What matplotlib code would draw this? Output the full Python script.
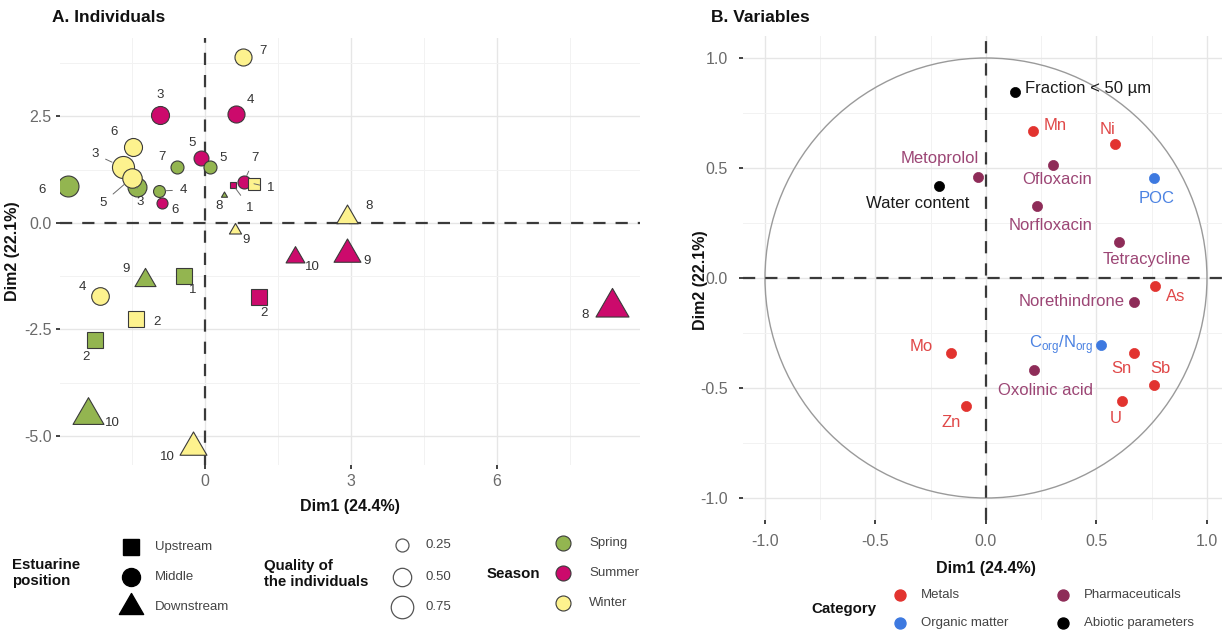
import numpy as np
import matplotlib
matplotlib.use("Agg")
import matplotlib.pyplot as plt
from matplotlib.path import Path
from matplotlib.patches import Circle

plt.rcParams['font.family'] = ['Liberation Sans', 'DejaVu Sans']

W, H = 1224, 633

# ---------------- Individuals: PCA scores per season ----------------
spring_site = [6, 3, 7, 4, 5, 1, 2, 9, 10, 8]
spring_pos = ["Middle"] * 5 + ["Upstream"] * 2 + ["Downstream"] * 3
spring_dim1 = [-2.82, -1.40, -0.58, -0.95, 0.10, -0.43, -2.26, -1.23, -2.41, 0.39]
spring_dim2 = [0.87, 0.85, 1.31, 0.75, 1.31, -1.24, -2.75, -1.34, -4.50, 0.66]
spring_qual = [0.65, 0.53, 0.25, 0.21, 0.25, 0.43, 0.53, 0.36, 0.78, 0.03]

summer_site = [3, 4, 5, 7, 6, 1, 2, 10, 9, 8]
summer_pos = ["Middle"] * 5 + ["Upstream"] * 2 + ["Downstream"] * 3
summer_dim1 = [-0.93, 0.64, -0.08, 0.80, -0.88, 0.58, 1.11, 1.85, 2.92, 8.37]
summer_dim2 = [2.54, 2.56, 1.53, 0.96, 0.47, 0.89, -1.74, -0.81, -0.73, -1.97]
summer_qual = [0.48, 0.43, 0.33, 0.25, 0.18, 0.09, 0.43, 0.29, 0.59, 0.89]

winter_site = [7, 6, 3, 5, 4, 1, 2, 10, 8, 9]
winter_pos = ["Middle"] * 5 + ["Upstream"] * 2 + ["Downstream"] * 3
winter_dim1 = [0.78, -1.48, -1.69, -1.50, -2.16, 1.01, -1.42, -0.25, 2.92, 0.62]
winter_dim2 = [3.90, 1.78, 1.31, 1.06, -1.71, 0.92, -2.25, -5.26, 0.15, -0.16]
winter_qual = [0.43, 0.48, 0.72, 0.56, 0.46, 0.27, 0.48, 0.59, 0.38, 0.12]

# label placement (pixels right, pixels down) and whether a leader segment is drawn
spring_lab = [(-26, 4, 0), (3, 15, 1), (-15, -10, 0), (25, -1, 1), (13, -9, 0),
              (9, 14, 0), (-9, 17, 0), (-19, -11, 0), (25, 8, 0), (-5, 11, 0)]
summer_lab = [(0, -20, 0), (14, -14, 0), (-9, -15, 0), (11, -24, 1), (13, 7, 0),
              (17, 23, 1), (5, 16, 0), (18, 10, 0), (20, 7, 0), (-27, 8, 0)]
winter_lab = [(20, -6, 0), (-19, -15, 0), (-28, -13, 1), (-29, 25, 1), (-17, -9, 0),
              (17, 4, 1), (21, 3, 0), (-25, 10, 0), (22, -11, 0), (11, 10, 0)]

season_names = ["Spring", "Summer", "Winter"]
season_colors = ["#93B550", "#CC0A6C", "#FDF28E"]
positions = ["Upstream", "Middle", "Downstream"]
quality_breaks = [0.25, 0.50, 0.75]

ind_xticks = [0, 3, 6]
ind_xticklabels = ["0", "3", "6"]
ind_yticks = [-5.0, -2.5, 0.0, 2.5]
ind_yticklabels = ["-5.0", "-2.5", "0.0", "2.5"]

# ---------------- Variables: correlation circle ----------------
var_names = ["Fraction < 50 µm", "Mn", "Ni", "Ofloxacin", "Metoprolol", "Water content",
             "POC", "Norfloxacin", "Tetracycline", "As", "Norethindrone",
             r"C$_{\mathregular{org}}$/N$_{\mathregular{org}}$", "Sn", "Sb", "U",
             "Oxolinic acid", "Mo", "Zn"]
var_cat = ["Abiotic parameters", "Metals", "Metals", "Pharmaceuticals", "Pharmaceuticals",
           "Abiotic parameters", "Organic matter", "Pharmaceuticals", "Pharmaceuticals",
           "Metals", "Pharmaceuticals", "Organic matter", "Metals", "Metals", "Metals",
           "Pharmaceuticals", "Metals", "Metals"]
var_dim1 = [0.133, 0.214, 0.583, 0.305, -0.038, -0.214, 0.759, 0.229, 0.602, 0.766,
            0.672, 0.522, 0.672, 0.759, 0.617, 0.217, -0.157, -0.089]
var_dim2 = [0.847, 0.670, 0.609, 0.515, 0.461, 0.420, 0.453, 0.329, 0.163, -0.038,
            -0.108, -0.304, -0.342, -0.485, -0.560, -0.417, -0.342, -0.583]
var_lab = [(10, -3, "left"), (22, -5, "center"), (-7, -15, "center"), (4, 15, "center"),
           (-38, -18, "center"), (-21, 18, "center"), (3, 20, "center"), (14, 20, "center"),
           (28, 17, "center"), (20, 10, "center"), (-63, 0, "center"), (-40, 0, "center"),
           (-13, 15, "center"), (7, -16, "center"), (-7, 17, "center"), (12, 21, "center"),
           (-30, -7, "center"), (-15, 16, "center")]

categories = ["Metals", "Pharmaceuticals", "Organic matter", "Abiotic parameters"]
cat_colors = {"Metals": "#E2332F", "Pharmaceuticals": "#8E2C58",
              "Organic matter": "#3D79E0", "Abiotic parameters": "#000000"}
cat_text_colors = {"Metals": "#E04848", "Pharmaceuticals": "#9C4675",
                   "Organic matter": "#4B82E2", "Abiotic parameters": "#1a1a1a"}

var_ticks = [-1.0, -0.5, 0.0, 0.5, 1.0]
var_ticklabels = ["-1.0", "-0.5", "0.0", "0.5", "1.0"]

# ---------------- helpers ----------------
TRI = Path([[0, 1], [-np.sqrt(3) / 2, -0.5], [np.sqrt(3) / 2, -0.5], [0, 1]],
           [Path.MOVETO, Path.LINETO, Path.LINETO, Path.CLOSEPOLY])


def diam_px(q):
    return 26.0 * np.sqrt(q)


def marker_for(pos, d_px):
    d_pt = d_px * 0.72
    if pos == "Upstream":
        return "s", 0.886 * d_pt
    if pos == "Middle":
        return "o", d_pt
    return TRI, 1.555 * d_pt


def fx(x):
    return x / W


def fy(y):
    return 1 - y / H


def style_axes(ax, xt, xtl, yt, ytl, xminor, yminor, pad_x, pad_y):
    for s in ax.spines.values():
        s.set_visible(False)
    ax.set_xticks(xt)
    ax.set_xticklabels(xtl)
    ax.set_yticks(yt)
    ax.set_yticklabels(ytl)
    ax.set_xticks(xminor, minor=True)
    ax.set_yticks(yminor, minor=True)
    ax.grid(True, which="major", color="#E6E6E6", lw=1.0, zorder=0)
    ax.grid(True, which="minor", color="#F2F2F2", lw=0.7, zorder=0)
    ax.set_axisbelow(True)
    ax.tick_params(which="major", length=3, width=1.3, color="#333333",
                   labelsize=11.5, labelcolor="#6a6a6a")
    ax.tick_params(axis="x", which="major", pad=pad_x)
    ax.tick_params(axis="y", which="major", pad=pad_y)
    ax.tick_params(which="minor", length=0)


fig = plt.figure(figsize=(W / 100, H / 100), dpi=100)
fig.patch.set_facecolor("white")

# ---------------- panel A ----------------
axA = fig.add_axes([fx(60), fy(465), (640 - 60) / W, (465 - 38) / H])
axA.set_xlim(-2.98, 8.95)
axA.set_ylim(-5.68, 4.34)
style_axes(axA, ind_xticks, ind_xticklabels, ind_yticks, ind_yticklabels,
           [-1.5, 1.5, 4.5, 7.5], [-3.75, -1.25, 1.25, 3.75], 3.5, 3)
axA.axhline(0, color="#3a3a3a", lw=1.6, dashes=(5.5, 4.5), zorder=1)
axA.axvline(0, color="#3a3a3a", lw=1.6, dashes=(5.5, 4.5), zorder=1)

groups = [
    (summer_site, summer_pos, summer_dim1, summer_dim2, summer_qual, summer_lab, season_colors[1]),
    (spring_site, spring_pos, spring_dim1, spring_dim2, spring_qual, spring_lab, season_colors[0]),
    (winter_site, winter_pos, winter_dim1, winter_dim2, winter_qual, winter_lab, season_colors[2]),
]
for site, pos, d1, d2, qual, lab, col in groups:
    for s, p, x, y, q, (dx, dy, seg) in zip(site, pos, d1, d2, qual, lab):
        d = diam_px(q)
        mk, ms = marker_for(p, d)
        axA.plot([x], [y], ls="none", marker=mk, ms=ms, mfc=col, mec="#3a3a3a",
                 mew=0.8, zorder=3)
        ap = None
        if seg:
            ap = dict(arrowstyle="-", color="#6a6a6a", lw=0.7,
                      shrinkA=3.5, shrinkB=d * 0.36 + 0.5)
        axA.annotate(str(s), xy=(x, y), xytext=(dx, -dy), textcoords="offset pixels",
                     ha="center", va="center", fontsize=9.5, color="#333333",
                     arrowprops=ap, zorder=4)

fig.text(fx(52), fy(18), "A. Individuals", fontsize=12.5, fontweight="bold",
         ha="left", va="center", color="#111111")
fig.text(fx(350), fy(506), "Dim1 (24.4%)", fontsize=11.5, fontweight="bold",
         ha="center", va="center", color="#111111")
fig.text(fx(13), fy(251), "Dim2 (22.1%)", fontsize=11.5, fontweight="bold",
         ha="center", va="center", rotation=90, color="#111111")

# ---------------- panel B ----------------
axB = fig.add_axes([fx(743), fy(520), (1222 - 743) / W, (520 - 36) / H])
axB.set_xlim(-1.0995, 1.068)
axB.set_ylim(-1.1, 1.1)
style_axes(axB, var_ticks, var_ticklabels, var_ticks, var_ticklabels,
           [-0.75, -0.25, 0.25, 0.75], [-0.75, -0.25, 0.25, 0.75], 7, 8)
axB.add_patch(Circle((0, 0), 1.0, fill=False, ec="#9a9a9a", lw=1.0, zorder=1))
axB.axhline(0, color="#3a3a3a", lw=1.6, dashes=(5.5, 4.5), zorder=2)
axB.axvline(0, color="#3a3a3a", lw=1.6, dashes=(5.5, 4.5), zorder=2)

for name, cat, x, y, (dx, dy, ha) in zip(var_names, var_cat, var_dim1, var_dim2, var_lab):
    axB.plot([x], [y], ls="none", marker="o", ms=7.3, mfc=cat_colors[cat],
             mec=cat_colors[cat], mew=0.5, zorder=3)
    axB.annotate(name, xy=(x, y), xytext=(dx, -dy), textcoords="offset pixels",
                 ha=ha, va="center", fontsize=12, color=cat_text_colors[cat], zorder=4)

fig.text(fx(711), fy(18), "B. Variables", fontsize=12.5, fontweight="bold",
         ha="left", va="center", color="#111111")
fig.text(fx(986), fy(569), "Dim1 (24.4%)", fontsize=11.5, fontweight="bold",
         ha="center", va="center", color="#111111")
fig.text(fx(700), fy(280), "Dim2 (22.1%)", fontsize=11.5, fontweight="bold",
         ha="center", va="center", rotation=90, color="#111111")

# ---------------- legends ----------------
leg = fig.add_axes([0, 0, 1, 1], facecolor="none")
leg.set_xlim(0, W)
leg.set_ylim(H, 0)
leg.axis("off")

title_kw = dict(fontsize=10.8, fontweight="bold", color="#111111", va="center",
                ha="left", linespacing=1.15)
item_kw = dict(fontsize=9.5, color="#444444", va="center", ha="left")

# estuarine position
leg.text(12, 573, "Estuarine\nposition", **title_kw)
for p, yy in zip(positions, [547, 577, 607]):
    mk, ms = marker_for(p, 18)
    leg.plot([131], [yy], ls="none", marker=mk, ms=ms, mfc="black", mec="black")
    leg.text(155, yy, p, **item_kw)

# quality of representation
leg.text(264, 574, "Quality of\nthe individuals", **title_kw)
for q, yy in zip(quality_breaks, [545, 577, 607]):
    leg.plot([402], [yy], ls="none", marker="o", ms=diam_px(q) * 0.72,
             mfc="white", mec="#555555", mew=0.9)
    leg.text(425, yy, f"{q:.2f}", **item_kw)

# season
leg.text(487, 574, "Season", **title_kw)
for sname, col, yy in zip(season_names, season_colors, [543, 573, 603]):
    leg.plot([563], [yy], ls="none", marker="o", ms=15 * 0.72, mfc=col,
             mec="#3a3a3a", mew=0.8)
    leg.text(589, yy, sname, **item_kw)

# variable category
leg.text(811, 609, "Category", **title_kw)
cat_slots = {"Metals": (900, 595), "Organic matter": (900, 623),
             "Pharmaceuticals": (1063, 595), "Abiotic parameters": (1063, 623)}
for c in categories:
    cx, cy = cat_slots[c]
    leg.plot([cx], [cy], ls="none", marker="o", ms=11 * 0.72, mfc=cat_colors[c],
             mec=cat_colors[c])
    leg.text(cx + 21, cy, c, **item_kw)

fig.savefig("out.png", dpi=100, facecolor="white")
